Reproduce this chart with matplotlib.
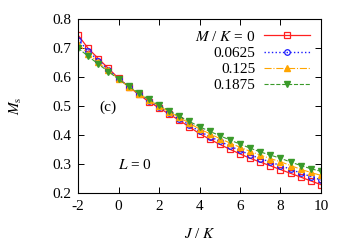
import matplotlib as mpl
mpl.use('Agg')
import matplotlib.pyplot as plt
import numpy as np

plt.rcParams['font.family'] = ['Liberation Serif', 'DejaVu Serif']
plt.rcParams['mathtext.fontset'] = 'stix'

# J/K grid and magnetization curves for the four M/K values
jk = [-2, -1.5, -1, -0.5, 0, 0.5, 1, 1.5, 2, 2.5, 3, 3.5, 4, 4.5, 5,
      5.5, 6, 6.5, 7, 7.5, 8, 8.5, 9, 9.5, 10]
ms_0 = [0.745, 0.699, 0.664, 0.630, 0.596, 0.567, 0.540, 0.515, 0.494, 0.472,
        0.451, 0.428, 0.405, 0.386, 0.368, 0.351, 0.335, 0.320, 0.307, 0.294,
        0.281, 0.268, 0.255, 0.242, 0.229]
ms_0625 = [0.729, 0.690, 0.657, 0.626, 0.595, 0.567, 0.542, 0.518, 0.497, 0.476,
           0.456, 0.435, 0.413, 0.395, 0.379, 0.362, 0.347, 0.332, 0.319, 0.307,
           0.295, 0.282, 0.269, 0.257, 0.245]
ms_125 = [0.714, 0.681, 0.651, 0.623, 0.594, 0.567, 0.543, 0.520, 0.500, 0.480,
          0.461, 0.441, 0.421, 0.405, 0.388, 0.373, 0.358, 0.344, 0.331, 0.319,
          0.308, 0.295, 0.282, 0.271, 0.261]
ms_1875 = [0.700, 0.672, 0.645, 0.619, 0.593, 0.568, 0.545, 0.523, 0.503, 0.484,
           0.465, 0.447, 0.429, 0.413, 0.398, 0.383, 0.369, 0.355, 0.342, 0.331,
           0.320, 0.307, 0.295, 0.284, 0.275]
labels = ["$M$ / $K$ = 0", "0.0625", "0.125", "0.1875"]
xticks = [-2, 0, 2, 4, 6, 8, 10]
yticks = [0.2, 0.3, 0.4, 0.5, 0.6, 0.7, 0.8]

fig = plt.figure(figsize=(3.5, 2.45), dpi=100)
ax = fig.add_axes([0.223, 0.212, 0.694, 0.710])

ax.plot(jk, ms_0, color='#ff2020', ls='-', lw=0.9, marker='s', ms=4.5,
        mfc='none', mec='#ff2020', mew=0.9, label=labels[0])
ax.plot(jk, ms_0625, color='#1a1aff', ls=':', lw=1.0, marker='o', ms=4.0,
        mfc='none', mec='#1a1aff', mew=0.9, label=labels[1])
ax.plot(jk, ms_125, color='#ffa500', ls='-.', lw=0.8, marker='^', ms=4.3,
        mfc='#ffa500', mec='#ffa500', label=labels[2])
ax.plot(jk, ms_1875, color='#3a9a2a', ls='--', lw=0.8, marker='v', ms=4.3,
        mfc='#3a9a2a', mec='#3a9a2a', label=labels[3])

ax.set_xlim(-2, 10)
ax.set_ylim(0.2, 0.8)
ax.set_xticks(xticks)
ax.set_xticklabels([str(t) for t in xticks])
ax.set_yticks(yticks)
ax.set_yticklabels(["%.1f" % t for t in yticks])
ax.tick_params(direction='in', top=True, right=True, length=4, width=0.7,
               labelsize=11, pad=5)
for s in ax.spines.values():
    s.set_linewidth(0.8)

ax.set_xlabel("$J$ / $K$", fontsize=11, labelpad=10)
ax.set_ylabel("$M_\\mathrm{s}$", fontsize=11, labelpad=20)

ax.text(-0.5, 0.497, "(c)", fontsize=11, ha='center', va='center')
ax.text(0.8, 0.297, "$L$ = 0", fontsize=11, ha='center', va='center')

leg = ax.legend(loc='upper right', markerfirst=False, frameon=False,
                fontsize=11, handlelength=3.0, handletextpad=0.6,
                labelspacing=0.16, borderaxespad=0.3, numpoints=1)
for t in leg.get_texts():
    t.set_ha('right')
leg._legend_box.align = 'right'

fig.savefig("out.png", dpi=100)
